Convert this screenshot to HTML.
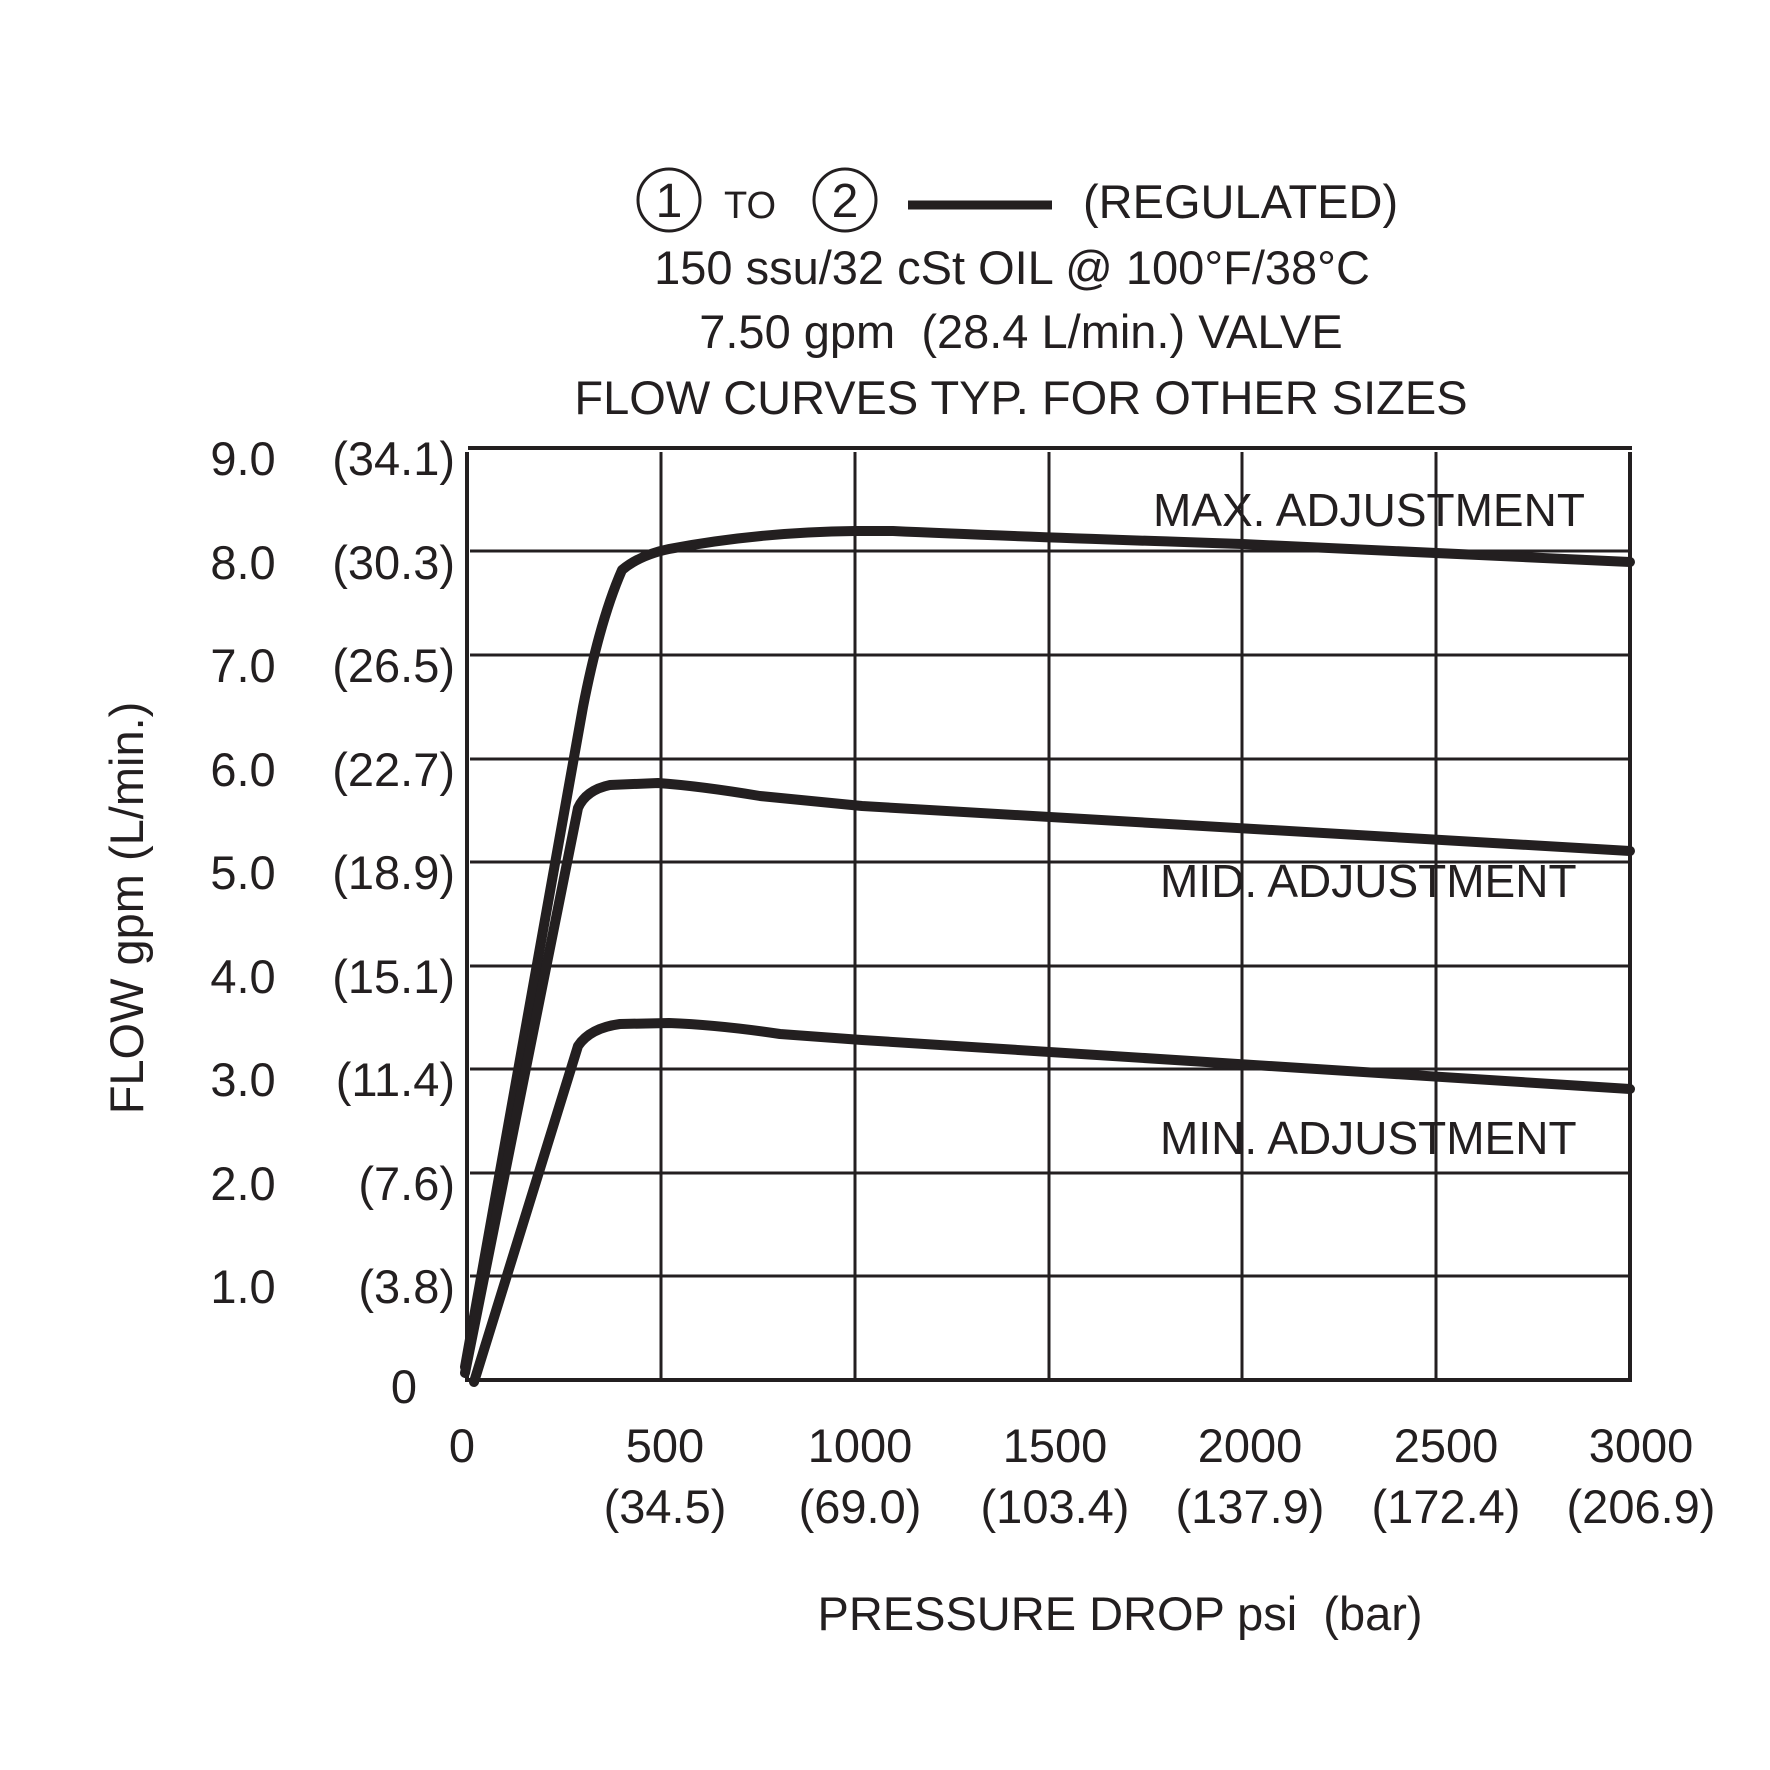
<!DOCTYPE html>
<html><head><meta charset="utf-8"><style>html,body{margin:0;padding:0;background:#fff}svg{display:block}</style></head>
<body>
<svg width="1770" height="1770" viewBox="0 0 1770 1770" xmlns="http://www.w3.org/2000/svg" font-family="Liberation Sans, Arial, sans-serif" fill="#231f20">
<g stroke="#231f20" stroke-width="3" fill="none">
<line x1="470" y1="551" x2="1630" y2="551"/>
<line x1="470" y1="655" x2="1630" y2="655"/>
<line x1="470" y1="759" x2="1630" y2="759"/>
<line x1="470" y1="862" x2="1630" y2="862"/>
<line x1="470" y1="966" x2="1630" y2="966"/>
<line x1="470" y1="1069" x2="1630" y2="1069"/>
<line x1="470" y1="1173" x2="1630" y2="1173"/>
<line x1="470" y1="1276" x2="1630" y2="1276"/>
<line x1="661" y1="452" x2="661" y2="1380"/>
<line x1="855" y1="452" x2="855" y2="1380"/>
<line x1="1049" y1="452" x2="1049" y2="1380"/>
<line x1="1242" y1="452" x2="1242" y2="1380"/>
<line x1="1436" y1="452" x2="1436" y2="1380"/>
</g>
<g stroke="#231f20" stroke-width="4" fill="none">
<line x1="467" y1="452" x2="467" y2="1382"/>
<line x1="467" y1="1380" x2="1632" y2="1380"/>
<line x1="1630" y1="452" x2="1630" y2="1382"/>
<line x1="468" y1="448" x2="1632" y2="448"/>
</g>
<g stroke="#231f20" stroke-width="10" fill="none" stroke-linejoin="round" stroke-linecap="round">
<path d="M465,1367 L583,707 Q600,620 622,570 Q640,555 669,549 Q760,532 855,531 L893,531 Q1000,536 1242,544 L1630,562"/>
<path d="M465,1373 L578,808 Q586,790 610,785 L658,783 Q700,786 760,796 L862,806 L1630,851"/>
<path d="M474,1382 L578,1046 Q590,1028 620,1024 L669,1023 Q720,1025 780,1034 L862,1040 L1630,1089"/>
</g>
<g font-size="47" text-anchor="middle">
<text x="243" y="475">9.0</text><text x="243" y="579">8.0</text><text x="243" y="682">7.0</text><text x="243" y="786">6.0</text><text x="243" y="889">5.0</text><text x="243" y="993">4.0</text><text x="243" y="1096">3.0</text><text x="243" y="1200">2.0</text><text x="243" y="1303">1.0</text><text x="404" y="1403">0</text>
</g>
<g font-size="47" text-anchor="end">
<text x="455" y="475">(34.1)</text><text x="455" y="579">(30.3)</text><text x="455" y="682">(26.5)</text><text x="455" y="786">(22.7)</text><text x="455" y="889">(18.9)</text><text x="455" y="993">(15.1)</text><text x="455" y="1096">(11.4)</text><text x="455" y="1200">(7.6)</text><text x="455" y="1303">(3.8)</text>
</g>
<g font-size="47" text-anchor="middle">
<text x="462" y="1462">0</text>
<text x="665" y="1462">500</text><text x="665" y="1523">(34.5)</text>
<text x="860" y="1462">1000</text><text x="860" y="1523">(69.0)</text>
<text x="1055" y="1462">1500</text><text x="1055" y="1523">(103.4)</text>
<text x="1250" y="1462">2000</text><text x="1250" y="1523">(137.9)</text>
<text x="1446" y="1462">2500</text><text x="1446" y="1523">(172.4)</text>
<text x="1641" y="1462">3000</text><text x="1641" y="1523">(206.9)</text>
<text x="1120" y="1630">PRESSURE DROP psi&#160; (bar)</text>
<text x="1012" y="284">150 ssu/32 cSt OIL @ 100°F/38°C</text>
<text x="1021" y="348">7.50 gpm&#160; (28.4 L/min.) VALVE</text>
<text x="1021" y="414">FLOW CURVES TYP. FOR OTHER SIZES</text>
<text transform="translate(143,908) rotate(-90)">FLOW gpm (L/min.)</text>
</g>
<g font-size="46">
<text x="1153" y="526">MAX. ADJUSTMENT</text>
<text x="1160" y="897">MID. ADJUSTMENT</text>
<text x="1160" y="1154">MIN. ADJUSTMENT</text>
<text x="1083" y="218" font-size="47">(REGULATED)</text>
<text x="724" y="218" font-size="38">TO</text>
</g>
<g stroke="#231f20" stroke-width="3" fill="none">
<circle cx="669" cy="200" r="31"/>
<circle cx="845" cy="200" r="31"/>
</g>
<text x="669" y="217" font-size="48" text-anchor="middle">1</text>
<text x="845" y="217" font-size="48" text-anchor="middle">2</text>
<line x1="908" y1="205" x2="1052" y2="205" stroke="#231f20" stroke-width="9"/>
</svg>
</body></html>
